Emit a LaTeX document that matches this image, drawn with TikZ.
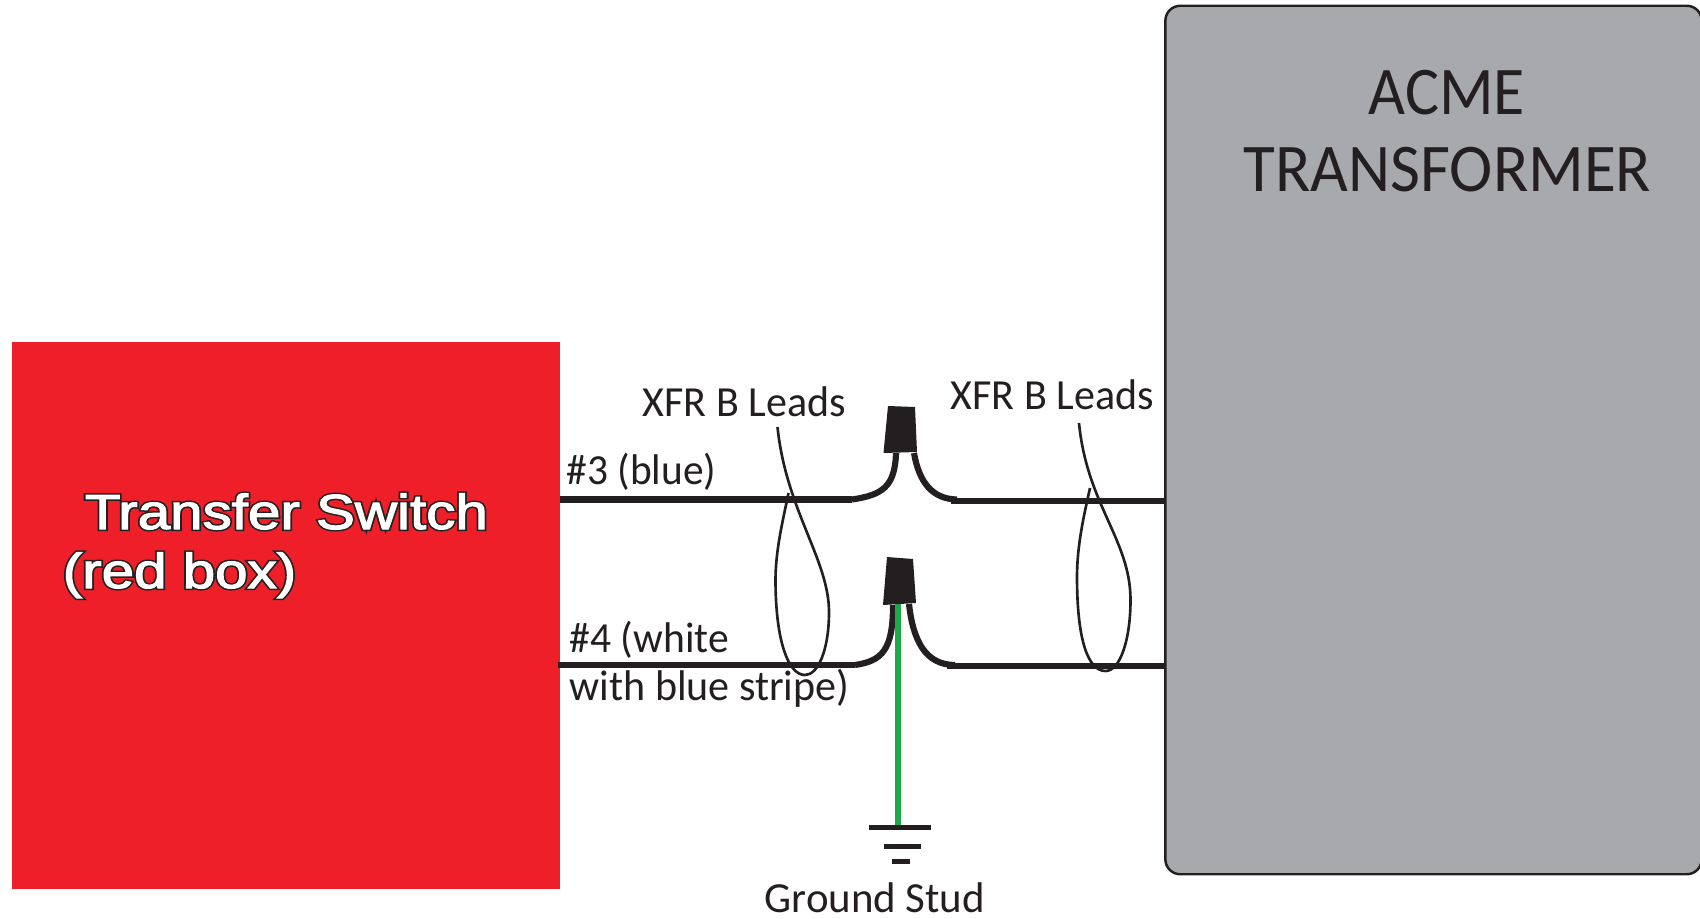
\documentclass[tikz,border=0pt]{standalone}
\usepackage{fontspec}
\setmainfont{Carlito}
\newfontfamily\switchfont{Liberation Sans}
\usepackage{tikz}
\usetikzlibrary{positioning}
\definecolor{inkdark}{HTML}{231F20}
\definecolor{switchred}{HTML}{EF1F2A}
\definecolor{xfmrgray}{HTML}{A7A9AC}
\definecolor{groundgreen}{HTML}{1DAB4A}
\newcommand{\outlined}[1]{\rlap{\special{pdf:code q 0.14 0.12 0.13 RG 1.15 w 1 Tr}#1\special{pdf:code Q}}\special{pdf:code q 1 1 1 rg 1 1 1 RG 0.3 w 2 Tr}#1\special{pdf:code Q}}
\tikzset{redbox/.style={rectangle,fill=switchred,inner sep=0pt,minimum width=5.48cm,minimum height=5.47cm},
	 xfmrbox/.style={rectangle,draw=inkdark,line width=0.7pt,fill=xfmrgray,rounded corners=0.15cm,inner sep=0pt,minimum width=5.36cm,minimum height=8.68cm},
	 wire/.style={draw=inkdark,line width=1.75pt},
	 leadloop/.style={draw=inkdark,line width=0.75pt},
	 gndbar/.style={draw=inkdark,line width=1.6pt},
	 wirenut/.style={fill=inkdark},
	 leadlabel/.style={anchor=base west,inner sep=0pt,text=inkdark,xscale=0.98,font=\fontsize{12.2}{14}\selectfont},
	 titlelabel/.style={anchor=base west,inner sep=0pt,text=inkdark,xscale=0.955,font=\fontsize{19.4}{23}\selectfont},
	 switchlabel/.style={anchor=base west,inner sep=0pt,xscale=1.185,font=\switchfont\fontsize{14}{17}\selectfont}
	 }
\begin{document}
\begin{tikzpicture}[x=0.01cm,y=-0.01cm]% transfer switch to transformer
        \useasboundingbox (0,0) rectangle (1700,918);
        \node[redbox] (switch) at (286,615.5) {};
        \node[xfmrbox] (xfmr) at (1433.5,440) {};
        \node[titlelabel,xscale=0.98] (acme) at (1368,114) {ACME};
        \node[titlelabel] (transformer) at (1243,191) {TRANSFORMER};
        \node[switchlabel] (switchname) at (84,529) {\outlined{Transfer Switch}};
        \node[switchlabel] (switchnote) at (62,588) {\outlined{(red box)}};
        \node[leadlabel] (leadsa) at (642,416) {XFR B Leads};
        \node[leadlabel] (leadsb) at (950,409) {XFR B Leads};
        \node[leadlabel,xscale=0.985] (wirethree) at (566,484) {\#3 (blue)};
        \node[leadlabel,xscale=0.99] (wirefour) at (569,652) {\#4 (white};
        \node[leadlabel] (wirestripe) at (569,700) {with blue stripe)};
        \node[leadlabel,xscale=1.02] (stud) at (764,912) {Ground Stud};
        % wire ends
        \coordinate (a1) at (560,499.5);
        \coordinate (a2) at (852,499.5);
        \coordinate (a3) at (896,453);
        \coordinate (a4) at (914,453);
        \coordinate (a5) at (957,499.5);
        \coordinate (a6) at (951,501);
        \coordinate (a7) at (xfmr.west |- a6);
        \coordinate (b1) at (558,665);
        \coordinate (b2) at (855,665);
        \coordinate (b3) at (893,605);
        \coordinate (b4) at (909,604);
        \coordinate (b5) at (955,665);
        \coordinate (b6) at (947,666);
        \coordinate (b7) at (xfmr.west |- b6);
        \coordinate (g1) at (898,604);
        \coordinate (g2) at (898,826);
        \draw[wire] (a1) to (a2);
        \draw[wire] (a2) .. controls (882,495) and (895,487) .. (a3);
        \draw[wire] (a4) .. controls (919,482) and (932,499) .. (a5);
        \draw[wire] (a6) to (a7);
        \draw[wire] (b1) to (b2);
        \draw[wire] (b2) .. controls (882,661) and (893,650) .. (b3);
        \draw[wire] (b4) .. controls (913,640) and (925,665) .. (b5);
        \draw[wire] (b6) to (b7);
        \draw[groundgreen,line width=1.6pt] (g1) to (g2);
        \fill[wirenut] (888,406) -- (915,407) -- (917,452) -- (883.5,453) -- cycle;
        \fill[wirenut] (887,557) -- (913,559) -- (916,603) -- (883,605) -- cycle;
        % ground symbol
        \draw[gndbar] (869,827.5) to (931,827.5);
        \draw[gndbar] (884,846.5) to (921,846.5);
        \draw[gndbar] (892,861.5) to (910,861.5);
        % lead loops
        \draw[leadloop] (777.5,427) .. controls (786,510) and (829,560) .. (829,612)
                .. controls (829,650) and (818,675) .. (805,675)
                .. controls (788,675) and (775.5,640) .. (775.5,580)
                .. controls (775.5,550) and (783,520) .. (788.5,493);
        \draw[leadloop] (1079,423) .. controls (1087,505) and (1130.5,540) .. (1130.5,600)
                .. controls (1130.5,640) and (1120,671) .. (1105.5,671)
                .. controls (1088,671) and (1077,640) .. (1077,577)
                .. controls (1077,545) and (1084,515) .. (1090,488);
     \end{tikzpicture}
\end{document}
